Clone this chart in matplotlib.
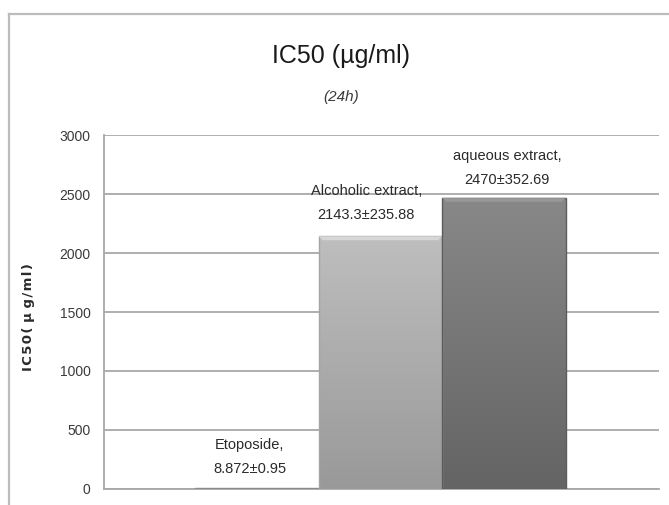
import numpy as np
import matplotlib
matplotlib.use("Agg")
import matplotlib.pyplot as plt
from matplotlib import font_manager
from matplotlib.colors import LinearSegmentedColormap
from matplotlib.patches import Polygon
from matplotlib.lines import Line2D

# ---- data ----
categories = ["Etoposide", "Alcoholic extract", "aqueous extract"]
ic50_values = [8.872, 2143.3, 2470]
ic50_errors = [0.95, 235.88, 352.69]
value_labels = ["8.872", "2143.3", "2470"]
error_labels = ["0.95", "235.88", "352.69"]
y_ticks = [0, 500, 1000, 1500, 2000, 2500, 3000]

# ---- fonts ----
installed = {f.name for f in font_manager.fontManager.ttflist}
narrow = "Liberation Sans Narrow" if "Liberation Sans Narrow" in installed else "Liberation Sans"
plt.rcParams["font.family"] = [narrow, "DejaVu Sans"]

W, H, DPI = 669, 505, 100
fig = plt.figure(figsize=(W / DPI, H / DPI), dpi=DPI)
fig.patch.set_facecolor("white")

# chart-area frame (left and top edges)
frame_c = "#bcbcbc"
fig.add_artist(Line2D([9 / W, 9 / W], [0, 1 - 14 / H], transform=fig.transFigure,
                      color=frame_c, lw=1.6))
fig.add_artist(Line2D([9 / W, 1.0], [1 - 14 / H, 1 - 14 / H], transform=fig.transFigure,
                      color=frame_c, lw=1.6))

ax = fig.add_axes([104.3 / W, 1 - 488.7 / H, 554.7 / W, 353.4 / H])
ax.set_facecolor("none")

x = np.arange(len(categories))
bar_w = 1.0
top_colors = ["#a0a0a0", "#bebebe", "#888888"]
bottom_colors = ["#8c8c8c", "#999999", "#646464"]
edge_colors = ["#8a8a8a", "#a4a4a4", "#5c5c5c"]
hl_colors = ["#b0b0b0", "#dcdcdc", "#9c9c9c"]

bars = ax.bar(x, ic50_values, width=bar_w, color="none", edgecolor="none", zorder=3)

grad = np.linspace(0, 1, 256).reshape(-1, 1)
for i, b in enumerate(bars):
    x0, x1 = b.get_x(), b.get_x() + b.get_width()
    h = b.get_height()
    cmap = LinearSegmentedColormap.from_list(f"g{i}", [top_colors[i], bottom_colors[i]])
    im = ax.imshow(grad, cmap=cmap, extent=(x0, x1, 0, h), origin="upper",
                   aspect="auto", zorder=3, interpolation="bicubic")
    im.set_clip_path(b)
    # outline
    ax.add_patch(plt.Rectangle((x0, 0), x1 - x0, h, fill=False,
                               edgecolor=edge_colors[i], lw=1.0, zorder=4))
    # bevelled highlight along the top edge
    if h > 100:
        dy = 34
        dx = 0.032
        ax.add_patch(Polygon([(x0, h), (x1, h), (x1 - dx, h - dy), (x0 + dx, h - dy)],
                             closed=True, facecolor=hl_colors[i], edgecolor="none",
                             alpha=0.85, zorder=4))

ax.set_xlim(-1.234, 3.255)
ax.set_ylim(0, 3000)
ax.set_yticks(y_ticks)
ax.set_yticklabels([str(t) for t in y_ticks])
ax.set_xticks([])

grid_c = "#a8a8a8"
ax.yaxis.grid(True, color=grid_c, lw=1.3, zorder=0)
ax.set_axisbelow(True)
for s in ["top", "right"]:
    ax.spines[s].set_visible(False)
ax.spines["left"].set_color(grid_c)
ax.spines["left"].set_linewidth(1.3)
ax.spines["bottom"].set_color(grid_c)
ax.spines["bottom"].set_linewidth(1.3)
ax.tick_params(axis="y", length=0, pad=10, labelsize=10, labelcolor="#3a3a3a")

hair = "\u200a"
ylab = hair.join("IC50(") + " µ " + hair.join("g/ml)")
ax.set_ylabel(ylab, family="DejaVu Sans", fontweight="bold",
              fontsize=9.5, color="#2a2a2a")
ax.yaxis.set_label_coords(-0.125, 0.487)

# data labels above the bars
label_dx = [-7, -14, 3]
label_dy = [12, 14, 11]
for i, v in enumerate(ic50_values):
    txt = f"{categories[i]},\n{value_labels[i]}±{error_labels[i]}"
    ax.annotate(txt, xy=(x[i], v), xytext=(label_dx[i], label_dy[i]),
                textcoords="offset pixels", ha="center", va="bottom",
                fontsize=10.5, color="#2a2a2a", linespacing=1.9, zorder=5)

fig.text(341 / W, 1 - 56 / H, "IC50 (µg/ml)", ha="center", va="center",
         fontsize=18, color="#1a1a1a")
fig.text(341.5 / W, 1 - 96.7 / H, "(24h)", ha="center", va="center",
         fontsize=11, style="italic", color="#3a3a3a")

fig.savefig("out.png", dpi=DPI)
